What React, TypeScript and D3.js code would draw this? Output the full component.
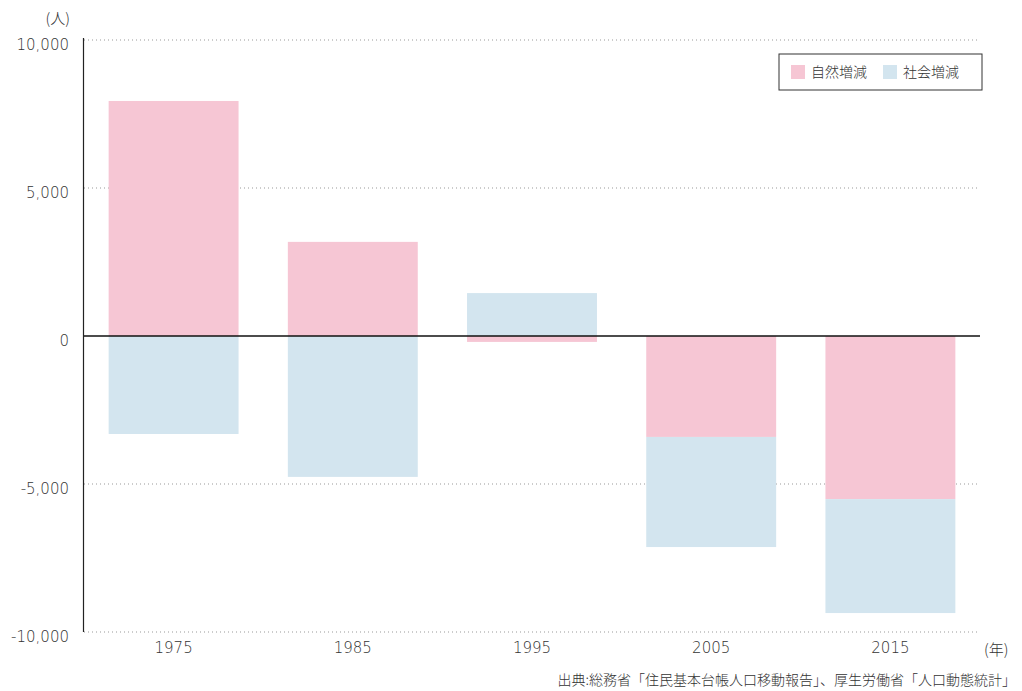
import React from 'react';
import * as d3 from 'd3';

const years = ['1975', '1985', '1995', '2005', '2015'];
const naturalChange = [7940, 3180, -200, -3410, -5510];
const socialChange = [-3310, -4760, 1450, -3720, -3850];
const yTicks = [10000, 5000, 0, -5000, -10000];
const seriesNames = ['自然増減', '社会増減'];
const seriesColors = ['#f6c6d4', '#d3e5ef'];

const W = 1022;
const H = 691;
const margin = { top: 40, right: 42, bottom: 59, left: 84 };
const font = '"Noto Sans CJK JP", "Noto Sans", sans-serif';
const numFont = '"DejaVu Sans", sans-serif';
const textColor = '#333';

export default function App() {
  const innerW = W - margin.left - margin.right;
  const innerH = H - margin.top - margin.bottom;

  const x = d3.scaleBand().domain(years).range([0, innerW]).paddingInner(0.275).paddingOuter(0.1375);
  const y = d3.scaleLinear().domain([-10000, 10000]).range([innerH, 0]);

  // stack: positives upward from 0, negatives downward from 0
  const bars: { key: string; series: number; y0: number; y1: number }[] = [];
  years.forEach((yr, i) => {
    let pos = 0;
    let neg = 0;
    [naturalChange[i], socialChange[i]].forEach((v, s) => {
      if (v >= 0) {
        bars.push({ key: yr, series: s, y0: pos, y1: pos + v });
        pos += v;
      } else {
        bars.push({ key: yr, series: s, y0: neg + v, y1: neg });
        neg += v;
      }
    });
  });

  // plain hyphen instead of unicode minus
  const fmt = (v: number) => d3.format(',')(v).replace('\u2212', '-');

  return (
    <svg width={W} height={H} style={{ position: 'absolute', left: 0, top: 0, background: '#fff' }}>
      <g transform={`translate(${margin.left},${margin.top})`} fontFamily={font} fontWeight={300}>
        {/* gridlines */}
        {yTicks.filter(t => t !== 0).map(t => (
          <line key={t} x1={0} x2={innerW} y1={y(t)} y2={y(t)} stroke="#999" strokeDasharray="1,3" />
        ))}

        {/* bars */}
        {bars.map((b, i) => (
          <rect
            key={i}
            x={x(b.key)}
            width={x.bandwidth()}
            y={y(b.y1)}
            height={y(b.y0) - y(b.y1)}
            fill={seriesColors[b.series]}
          />
        ))}

        {/* axes */}
        <line x1={-0.5} x2={-0.5} y1={-2} y2={innerH} stroke="#222" strokeWidth={1.2} />
        <line x1={0} x2={innerW} y1={y(0)} y2={y(0)} stroke="#111" strokeWidth={1.4} />

        {yTicks.map(t => (
          <text key={t} x={-15} y={y(t) + 4.5} dy="0.35em" textAnchor="end" fontSize={15} fontFamily={numFont} fontWeight={200} fill={textColor}>
            {fmt(t)}
          </text>
        ))}
        <text x={-14} y={-21} dy="0.35em" textAnchor="end" fontSize={15} fill={textColor}>(人)</text>

        {years.map(yr => (
          <text key={yr} x={(x(yr) || 0) + x.bandwidth() / 2} y={innerH + 16} dy="0.35em" textAnchor="middle" fontSize={15} fontFamily={numFont} fontWeight={200} fill={textColor}>
            {yr}
          </text>
        ))}
        <text x={innerW + 4} y={innerH + 18} dy="0.35em" textAnchor="start" fontSize={15} fill={textColor}>(年)</text>

        {/* legend */}
        <g transform={`translate(${innerW - 201},${14})`}>
          <rect x={0} y={0} width={203} height={36} fill="#fff" stroke="#333" strokeWidth={1} />
          {seriesNames.map((n, i) => (
            <g key={n} transform={`translate(${12 + i * 92},0)`}>
              <rect x={0} y={11} width={14} height={14} fill={seriesColors[i]} />
              <text x={20} y={18} dy="0.35em" fontSize={14} fill={textColor}>{n}</text>
            </g>
          ))}
        </g>
      </g>
      <text x={1016} y={680} dy="0.35em" textAnchor="end" fontSize={14} fill={textColor} fontFamily={font} fontWeight={300}>
        出典:総務省「住民基本台帳人口移動報告」、厚生労働省「人口動態統計」
      </text>
    </svg>
  );
}
